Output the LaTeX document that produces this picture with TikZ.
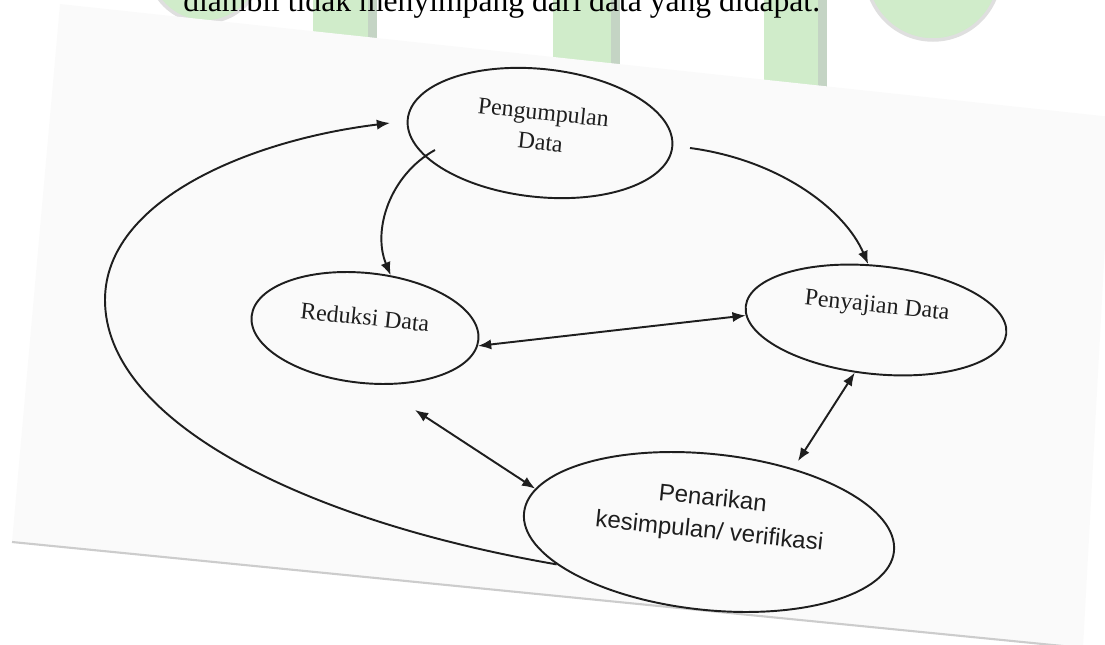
\documentclass[tikz,border=0pt]{standalone}
\usepackage{fontspec}
\setmainfont{Liberation Serif}
\newfontfamily\arialfont{Liberation Sans}
\usetikzlibrary{shapes.geometric,arrows.meta,calc}
\definecolor{ink}{RGB}{30,30,30}
\definecolor{wmgreen}{RGB}{208,236,202}
\definecolor{wmedge}{RGB}{196,212,196}
\definecolor{pagebg}{RGB}{250,250,250}
\begin{document}
\begin{tikzpicture}[x=0.02cm,y=-0.02cm,
  oval/.style={draw=ink, line width=1.1pt, ellipse, inner sep=0pt, rotate=-6},
  lbl/.style={text=ink, font=\fontsize{13.6}{17}\selectfont, align=center, rotate=-6, inner sep=0pt},
  conn/.style={draw=ink, line width=1.1pt, -{Latex[length=7.5pt,width=5.8pt]}},
  dconn/.style={draw=ink, line width=1.1pt, {Latex[length=7.5pt,width=5.8pt]}-{Latex[length=7.5pt,width=5.8pt]}},
  bar/.style={fill=wmgreen},
  baredge/.style={fill=wmedge},
]
\useasboundingbox (0,0) rectangle (1105,645);
\clip (0,0) rectangle (1105,645);
% watermark
\fill[wmgreen] (205,-35) circle[radius=57];
\draw[gray!25, line width=2pt] (205,-35) circle[radius=57];
\fill[wmgreen] (933,-27) circle[radius=67];
\draw[gray!25, line width=2pt] (933,-27) circle[radius=67];
\fill[bar] (313,0) rectangle (377,80);
\fill[baredge] (368,0) rectangle (377,80);
\fill[bar] (553,0) rectangle (620,100);
\fill[baredge] (611,0) rectangle (620,100);
\fill[bar] (764,0) rectangle (827,120);
\fill[baredge] (818,0) rectangle (827,120);
% page
\fill[pagebg] (60,4) -- (1112,117) -- (1083,648) -- (12,542) -- cycle;
\draw[gray!40, line width=1.2pt] (12,542) -- (1083,648);
% top text
\node[anchor=base west, inner sep=0pt, font=\fontsize{18}{20}\selectfont] (toptext) at (183,12) {diambil tidak menyimpang dari data yang didapat.};
% ellipses
\node[oval, minimum width=5.32cm, minimum height=2.56cm] (peng) at (540,133) {};
\node[oval, minimum width=4.56cm, minimum height=2.2cm] (red) at (365,328) {};
\node[oval, minimum width=5.24cm, minimum height=2.16cm] (pys) at (876,320) {};
\node[oval, minimum width=7.44cm, minimum height=3.12cm] (pen) at (709,532) {};
% labels
\node[lbl] (tpeng) at (542,127) {Pengumpulan\\Data};
\node[lbl] (tred) at (365,317) {Reduksi Data};
\node[lbl] (tpys) at (877,307) {Penyajian Data};
\node[lbl, font=\arialfont\fontsize{13.7}{18.7}\selectfont] (tpen) at (711,516) {Penarikan\\kesimpulan/ verifikasi};
% free ends
\coordinate (looptip) at (390,123);
\coordinate (pgin) at (435,150);
\coordinate (pgout) at (690,148);
\coordinate (rdlow) at (415,410);
% connectors
\draw[conn] (pen.198) .. controls (300,520) and (105,420) .. (105,300) .. controls (105,200) and (250,140) .. (looptip);
\draw[conn] (pgin) .. controls (390,175) and (372,230) .. (red.70);
\draw[conn] (pgout) .. controls (780,160) and (845,210) .. (pys.104);
\draw[dconn] (red.-3) -- (pys.184);
\draw[dconn] (rdlow) -- (pen.172);
\draw[dconn, shorten >=5pt] (pys.254) -- (pen.43);
\end{tikzpicture}
\end{document}
